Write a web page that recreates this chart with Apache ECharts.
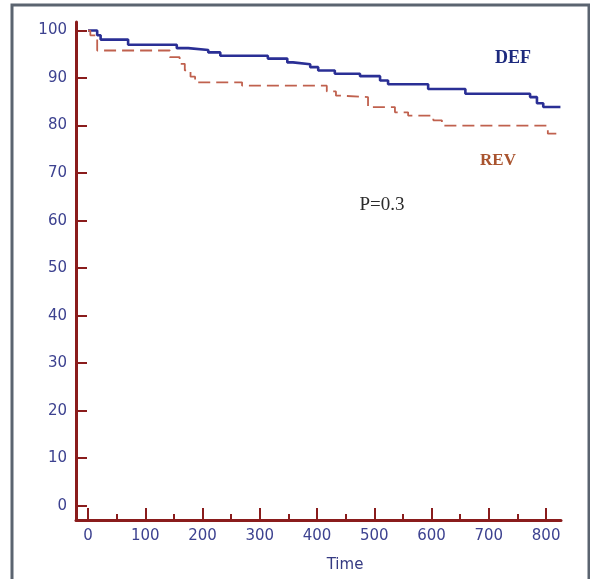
<!DOCTYPE html>
<html>
<head>
<meta charset="utf-8">
<script src="https://cdn.jsdelivr.net/npm/echarts@6/dist/echarts.min.js"></script>
<style>
  html, body { margin: 0; padding: 0; background: #fff; }
  #chart { width: 590px; height: 579px; }
</style>
</head>
<body>
<div id="chart"></div>
<script>
// survival curves (time, % surviving)
const defTime = [0, 16, 22, 70, 155, 175, 210, 231, 314, 348, 358, 388, 402, 431, 475, 510, 524, 594, 659, 772, 784, 795, 825]
const defSurv = [100, 99.0, 98.1, 97.0, 96.3, 95.9, 95.4, 94.7, 94.1, 93.3, 92.9, 92.3, 91.6, 90.9, 90.4, 89.5, 88.7, 87.7, 86.7, 86.0, 84.7, 83.9, 83.9]

const revTime = [0, 4, 16, 143, 160, 169, 179, 187, 269, 417, 433, 440, 489, 536, 559, 603, 618, 803, 825]
const revSurv = [100, 99.0, 95.8, 94.4, 93.0, 91.6, 90.3, 89.1, 88.4, 87.2, 86.3, 86.0, 83.9, 82.8, 82.1, 81.1, 80.0, 78.3, 78.3]

const xMajorTicks = [0, 100, 200, 300, 400, 500, 600, 700, 800]
const xMinorTicks = [50, 150, 250, 350, 450, 550, 650, 750]
const yTicks = [0, 10, 20, 30, 40, 50, 60, 70, 80, 90, 100]

const axisRed = '#8a1c1c'
const labelBlue = '#3d4290'

const pairs = (t, s) => t.map((v, i) => [v, s[i]])

const chart = echarts.init(document.getElementById('chart'))

const option = {
  backgroundColor: '#fff',
  animation: false,
  grid: { left: 76, right: 29, top: 22, bottom: 59 },
  xAxis: [
    {
      type: 'value',
      min: -21,
      max: 826,
      axisLine: { show: true, onZero: false, lineStyle: { color: axisRed, width: 3 } },
      axisTick: { show: true, inside: true, length: 12, customValues: xMajorTicks, lineStyle: { color: axisRed, width: 2 } },
      axisLabel: {
        customValues: xMajorTicks,
        margin: 9,
        color: labelBlue,
        fontSize: 15,
        fontFamily: 'DejaVu Sans',
      },
      splitLine: { show: false },
    },
    {
      // minor ticks at the half hundreds
      type: 'value',
      min: -21,
      max: 826,
      position: 'bottom',
      axisLine: { show: false, onZero: false },
      axisTick: { show: true, inside: true, length: 6, customValues: xMinorTicks, lineStyle: { color: axisRed, width: 2 } },
      axisLabel: { show: false },
      splitLine: { show: false },
    },
  ],
  yAxis: {
    type: 'value',
    min: -3,
    max: 101.8,
    axisLine: { show: true, onZero: false, lineStyle: { color: axisRed, width: 3 } },
    axisTick: { show: true, inside: true, length: 11, customValues: yTicks, lineStyle: { color: axisRed, width: 2 } },
    axisLabel: {
      customValues: yTicks,
      margin: 9,
      color: labelBlue,
      fontSize: 15,
      fontFamily: 'DejaVu Sans',
    },
    splitLine: { show: false },
  },
  series: [
    {
      name: 'DEF',
      type: 'line',
      step: 'end',
      symbol: 'none',
      data: pairs(defTime, defSurv),
      lineStyle: { color: '#2a2f95', width: 2.6 },
    },
    {
      name: 'REV',
      type: 'line',
      step: 'end',
      symbol: 'none',
      data: pairs(revTime, revSurv),
      lineStyle: { color: '#c0614e', width: 1.8, type: [12, 6] },
    },
  ],
  graphic: [
    {
      type: 'rect',
      shape: { x: 12, y: 5, width: 577, height: 600 },
      style: { fill: 'none', stroke: '#5b6470', lineWidth: 3 },
      silent: true,
    },
    {
      type: 'text', x: 513, y: 58,
      style: { text: 'DEF', font: 'bold 18px "Liberation Serif"', fill: '#1d2a7e', align: 'center', verticalAlign: 'middle' },
    },
    {
      type: 'text', x: 498, y: 161,
      style: { text: 'REV', font: 'bold 17px "Liberation Serif"', fill: '#a9542f', align: 'center', verticalAlign: 'middle' },
    },
    {
      type: 'text', x: 382, y: 205,
      style: { text: 'P=0.3', font: '19px "Liberation Serif"', fill: '#2b2b2b', align: 'center', verticalAlign: 'middle' },
    },
    {
      type: 'text', x: 345, y: 565,
      style: { text: 'Time', font: '15px "DejaVu Sans"', fill: '#353a82', align: 'center', verticalAlign: 'middle' },
    },
  ],
}

chart.setOption(option)
</script>
</body>
</html>
